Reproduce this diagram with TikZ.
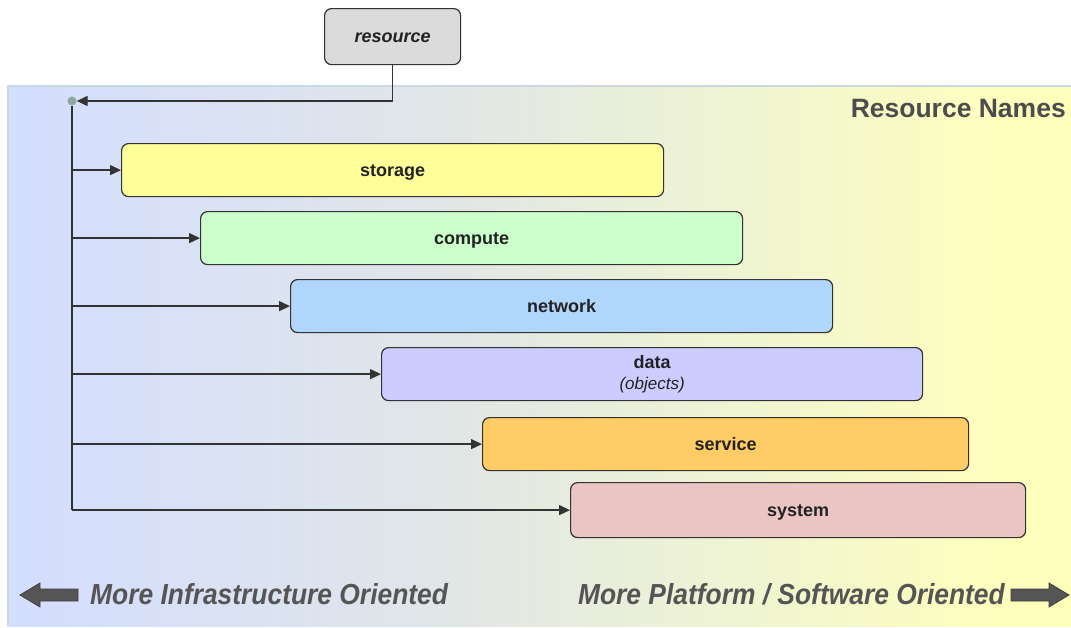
\documentclass[tikz,border=0pt]{standalone}
\usepackage{fontspec}
\setmainfont{Liberation Sans}
\newfontfamily\narrowfont[FakeStretch=0.91]{Liberation Sans}
\usetikzlibrary{arrows.meta,positioning}
\definecolor{edgec}{HTML}{333333}
\definecolor{txtc}{HTML}{222222}
\definecolor{graytxt}{HTML}{555555}
\definecolor{panelborder}{HTML}{C9D9E2}
\pgfdeclarehorizontalshading{panelshade}{100bp}{%
  rgb(0bp)=(0.83,0.87,1);
  rgb(25bp)=(0.83,0.87,1);
  rgb(45bp)=(0.88,0.90,0.91);
  rgb(60bp)=(0.94,0.96,0.82);
  rgb(72bp)=(1,1,0.74);
  rgb(100bp)=(1,1,0.73)}
\tikzset{
  box/.style={draw=edgec, line width=1.2pt, rounded corners=7pt, anchor=north west,
    text=txtc, font=\fontsize{18}{20}\selectfont\bfseries, inner sep=0pt,
    text height=14pt, text depth=2pt},
  arr/.style={draw=edgec, line width=1.4pt, -{Triangle[length=11pt,width=10pt]}},
  trunk/.style={draw=edgec, line width=1.4pt},
  bigarrow/.style={fill=graytxt, draw=black!75, line width=0.8pt},
  sidetxt/.style={text=graytxt, font=\narrowfont\fontsize{29}{32}\selectfont\bfseries\itshape, inner sep=0pt}
}
\begin{document}
\begin{tikzpicture}[x=1pt,y=-1pt]
\useasboundingbox (0,0) rectangle (1071,627);
% background panel
\shade[shading=panelshade] (8,86) rectangle (1071,626);
\draw[panelborder, line width=1.5pt] (1071,86) -- (8,86) -- (8,626);
% title
\node[anchor=east, text=graytxt!90!black, font=\fontsize{26.5}{29}\selectfont\bfseries, inner sep=0pt] (title) at (1066,109) {Resource Names};
% resource
\node[box, fill=black!14, minimum width=136pt, minimum height=56pt, font=\fontsize{18}{20}\selectfont\bfseries\itshape] (resource) at (324,8) {resource};
% boxes
\node[box, fill={rgb,255:red,255;green,255;blue,153}, minimum width=542pt, minimum height=53pt] (storage) at (121,143) {storage};
\node[box, fill={rgb,255:red,204;green,255;blue,204}, minimum width=542pt, minimum height=53pt] (compute) at (200,211) {compute};
\node[box, fill={rgb,255:red,176;green,214;blue,252}, minimum width=542pt, minimum height=53pt] (network) at (290,279) {network};
\node[box, fill={rgb,255:red,204;green,204;blue,255}, minimum width=541pt, minimum height=53pt, align=center, text height=, text depth=] (data) at (381,347) {data\\[1pt]{\mdseries\itshape\fontsize{17}{19}\selectfont (objects)}};
\node[box, fill={rgb,255:red,255;green,204;blue,102}, minimum width=486pt, minimum height=53pt] (service) at (482,417) {service};
\node[box, fill={rgb,255:red,235;green,196;blue,196}, minimum width=455pt, minimum height=55pt] (system) at (570,482) {system};
% hub
\node[circle, fill={rgb,255:red,140;green,168;blue,160}, minimum size=9pt, inner sep=0pt] (hub) at (72,101) {};
\draw[arr] (resource.south) |- (hub.east);
\draw[trunk] (hub.south) -- (hub |- system.west);
\foreach \b in {storage,compute,network,data,service,system}
  \draw[arr] (hub |- \b.west) -- (\b.west);
% bottom
\node[sidetxt, anchor=west] (left) at (90,594) {More Infrastructure Oriented};
\node[sidetxt, anchor=east] (right) at (1005,594) {More Platform / Software Oriented};
\draw[bigarrow] (78,589) -- (40,589) -- (40,583) -- (20,595) -- (40,607) -- (40,601) -- (78,601) -- cycle;
\draw[bigarrow] (1011,589) -- (1049,589) -- (1049,583) -- (1069,595) -- (1049,607) -- (1049,601) -- (1011,601) -- cycle;
\end{tikzpicture}
\end{document}
